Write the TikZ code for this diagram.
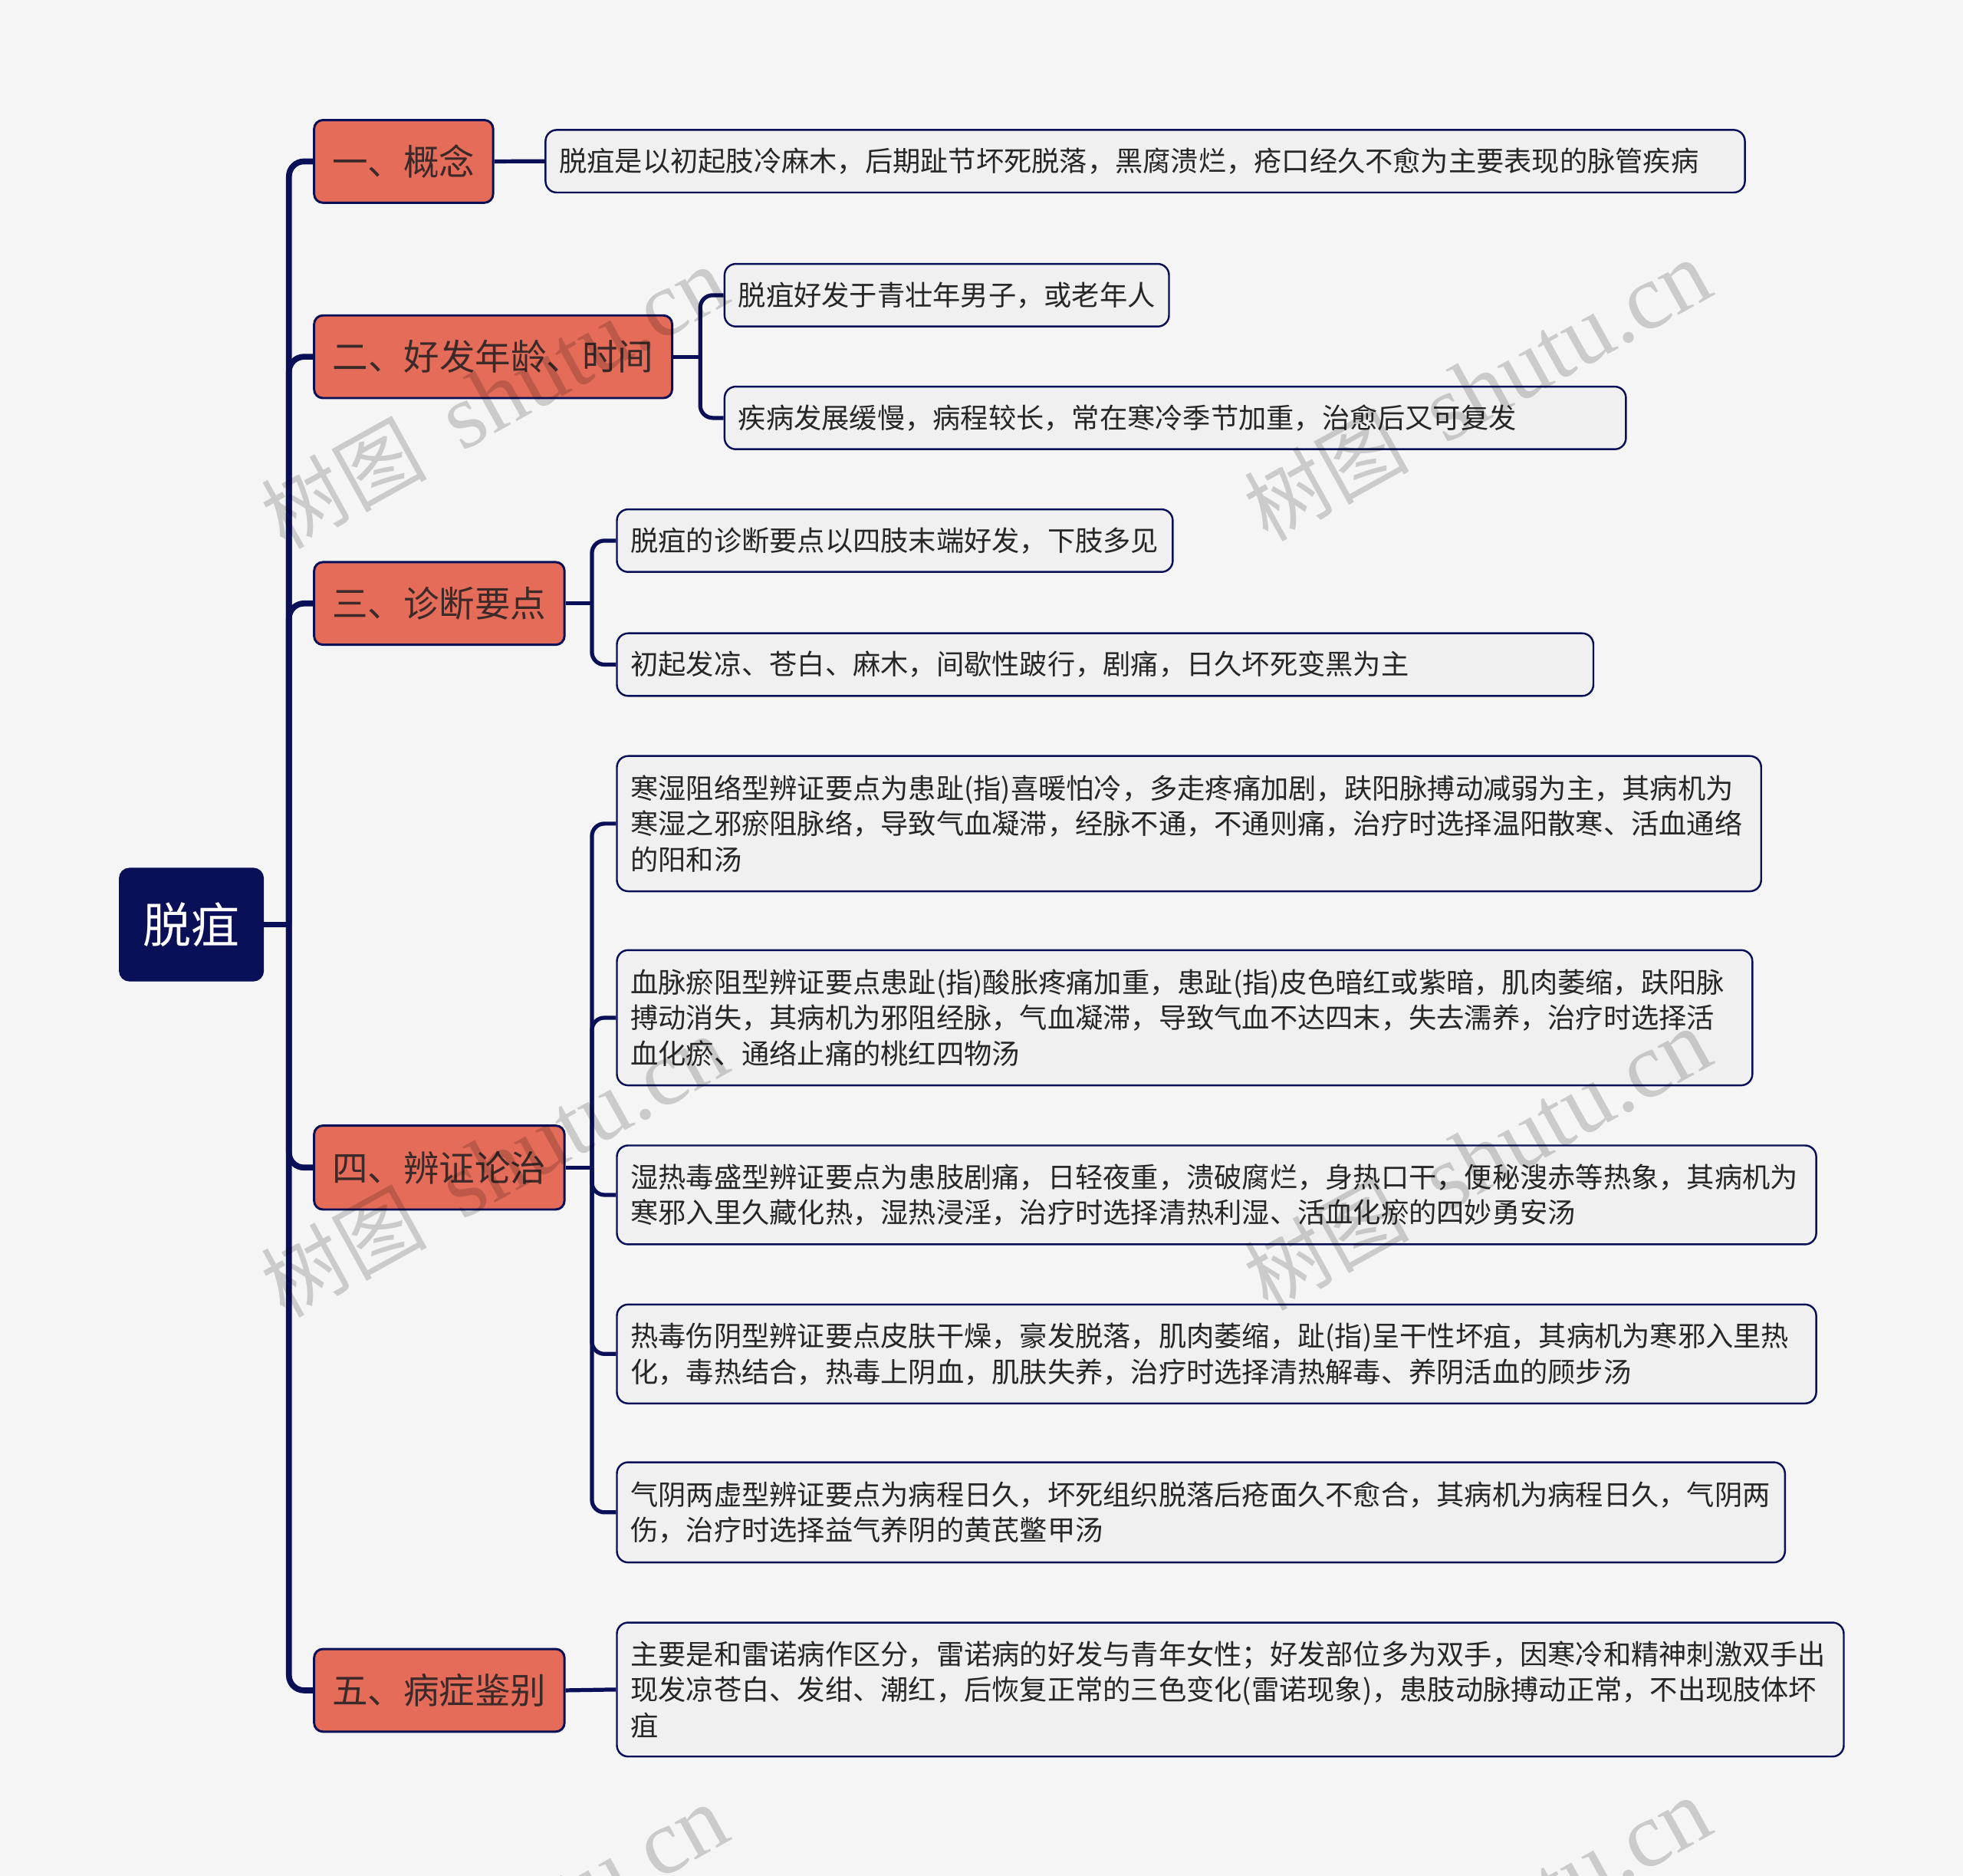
\documentclass[tikz,border=0pt]{standalone}
\usepackage{fontspec}
\usetikzlibrary{calc}
\newfontfamily\cjk{Noto Sans CJK SC}
\newfontfamily\wmserif{Liberation Serif}
\definecolor{bgc}{HTML}{F5F5F5}
\definecolor{navy}{HTML}{0A1058}
\definecolor{topicfill}{HTML}{E46C58}
\definecolor{topictext}{HTML}{3C2A2A}
\definecolor{leaffill}{HTML}{F0F0F0}
\definecolor{leaftext}{HTML}{262626}
\tikzset{
  rootbox/.style={fill=navy, draw=navy, rounded corners=4pt, anchor=north west, inner sep=0pt, align=center, text=white, font=\cjk\fontsize{19.25pt}{23pt}\selectfont},
  topicbox/.style={fill=topicfill, draw=navy, line width=0.9pt, rounded corners=3.5pt, anchor=north west, inner sep=0pt, align=center, text=topictext, font=\cjk\fontsize{14.25pt}{17pt}\selectfont},
  leafbox/.style={fill=leaffill, draw=navy, line width=0.75pt, rounded corners=4.5pt, anchor=north west, inner xsep=5.5pt, inner ysep=0pt, align=left, text=leaftext, font=\cjk\fontsize{11.1pt}{14.25pt}\selectfont},
  trunk/.style={draw=navy, line width=2.35pt},
  branch/.style={draw=navy, line width=1.6pt},
  wmark/.style={rotate=29, text=black, text opacity=0.17, inner sep=0pt},
}
\begin{document}
\begin{tikzpicture}[x=0.5pt,y=-0.5pt]
\fill[bgc] (0,0) rectangle (1568,1498);
\useasboundingbox (0,0) rectangle (1568,1498);

% root
\node[rootbox, minimum width=57.5pt, minimum height=45pt] (root) at (95,693) {脱疽};

% topics
\node[topicbox, minimum width=71.5pt, minimum height=33pt] (N1) at (250,95) {一、概念};
\node[topicbox, minimum width=143pt, minimum height=33pt] (N2) at (250,251) {二、好发年龄、时间};
\node[topicbox, minimum width=100pt, minimum height=33pt] (N3) at (250,448) {三、诊断要点};
\node[topicbox, minimum width=100pt, minimum height=33.5pt] (N4) at (250,898) {四、辨证论治};
\node[topicbox, minimum width=100pt, minimum height=33pt] (N5) at (250,1316) {五、病症鉴别};

% leaves
\node[leafbox, minimum width=479pt, minimum height=25pt, text width=468pt] (L1) at (435,103) {脱疽是以初起肢冷麻木，后期趾节坏死脱落，黑腐溃烂，疮口经久不愈为主要表现的脉管疾病};
\node[leafbox, minimum width=177.5pt, minimum height=25pt, text width=166.5pt] (L2a) at (578,210) {脱疽好发于青壮年男子，或老年人};
\node[leafbox, minimum width=360pt, minimum height=25pt, text width=349pt] (L2b) at (578,308) {疾病发展缓慢，病程较长，常在寒冷季节加重，治愈后又可复发};
\node[leafbox, minimum width=222pt, minimum height=25pt, text width=211pt] (L3a) at (492,406) {脱疽的诊断要点以四肢末端好发，下肢多见};
\node[leafbox, minimum width=390pt, minimum height=25pt, text width=379pt] (L3b) at (492,505) {初起发凉、苍白、麻木，间歇性跛行，剧痛，日久坏死变黑为主};
\node[leafbox, minimum width=457pt, minimum height=54pt, text width=446pt] (L4a) at (492,603) {寒湿阻络型辨证要点为患趾(指)喜暖怕冷，多走疼痛加剧，趺阳脉搏动减弱为主，其病机为\\寒湿之邪瘀阻脉络，导致气血凝滞，经脉不通，不通则痛，治疗时选择温阳散寒、活血通络\\的阳和汤};
\node[leafbox, minimum width=453.5pt, minimum height=54pt, text width=442.5pt] (L4b) at (492,758) {血脉瘀阻型辨证要点患趾(指)酸胀疼痛加重，患趾(指)皮色暗红或紫暗，肌肉萎缩，趺阳脉\\搏动消失，其病机为邪阻经脉，气血凝滞，导致气血不达四末，失去濡养，治疗时选择活\\血化瘀、通络止痛的桃红四物汤};
\node[leafbox, minimum width=479pt, minimum height=39.5pt, text width=468pt] (L4c) at (492,914) {湿热毒盛型辨证要点为患肢剧痛，日轻夜重，溃破腐烂，身热口干，便秘溲赤等热象，其病机为\\寒邪入里久藏化热，湿热浸淫，治疗时选择清热利湿、活血化瘀的四妙勇安汤};
\node[leafbox, minimum width=479pt, minimum height=39.5pt, text width=468pt] (L4d) at (492,1041) {热毒伤阴型辨证要点皮肤干燥，豪发脱落，肌肉萎缩，趾(指)呈干性坏疽，其病机为寒邪入里热\\化，毒热结合，热毒上阴血，肌肤失养，治疗时选择清热解毒、养阴活血的顾步汤};
\node[leafbox, minimum width=466.5pt, minimum height=40pt, text width=455.5pt] (L4e) at (492,1167) {气阴两虚型辨证要点为病程日久，坏死组织脱落后疮面久不愈合，其病机为病程日久，气阴两\\伤，治疗时选择益气养阴的黄芪鳖甲汤};
\node[leafbox, minimum width=490pt, minimum height=53.5pt, text width=479pt] (L5) at (492,1295) {主要是和雷诺病作区分，雷诺病的好发与青年女性；好发部位多为双手，因寒冷和精神刺激双手出\\现发凉苍白、发绀、潮红，后恢复正常的三色变化(雷诺现象)，患肢动脉搏动正常，不出现肢体坏\\疽};

% trunk
\coordinate (t0) at ($(root.east)+(20,0)$);
\draw[trunk] (root.east) -- (t0);
\foreach \n in {N1,N2,N3,N4,N5}
  \draw[trunk, rounded corners=6pt] (t0) |- (\n.west);

% branches
\draw[branch] (N1.east) -- (L1.west);

\coordinate (j2) at ($(N2.east)+(21.5,0)$);
\draw[branch] (N2.east) -- (j2);
\draw[branch, rounded corners=5pt] (j2) |- (L2a.west);
\draw[branch, rounded corners=5pt] (j2) |- (L2b.west);

\coordinate (j3) at ($(N3.east)+(21,0)$);
\draw[branch] (N3.east) -- (j3);
\draw[branch, rounded corners=5pt] (j3) |- (L3a.west);
\draw[branch, rounded corners=5pt] (j3) |- (L3b.west);

\coordinate (j4) at ($(N4.east)+(21,0)$);
\draw[branch] (N4.east) -- (j4);
\foreach \l in {L4a,L4b,L4c,L4d,L4e}
  \draw[branch, rounded corners=5pt] (j4) |- (\l.west);

\draw[branch] (N5.east) -- (L5.west);

% watermarks
\foreach \wx/\wy [count=\i] in {395/318,1180/312,395/932,1180/926,395/1546,1180/1540}
  \node[wmark] (wm\i) at (\wx,\wy) {\fontsize{33pt}{36pt}\cjk 树图\,\wmserif\fontsize{37pt}{40pt}\selectfont\ shutu.cn};
\end{tikzpicture}
\end{document}
